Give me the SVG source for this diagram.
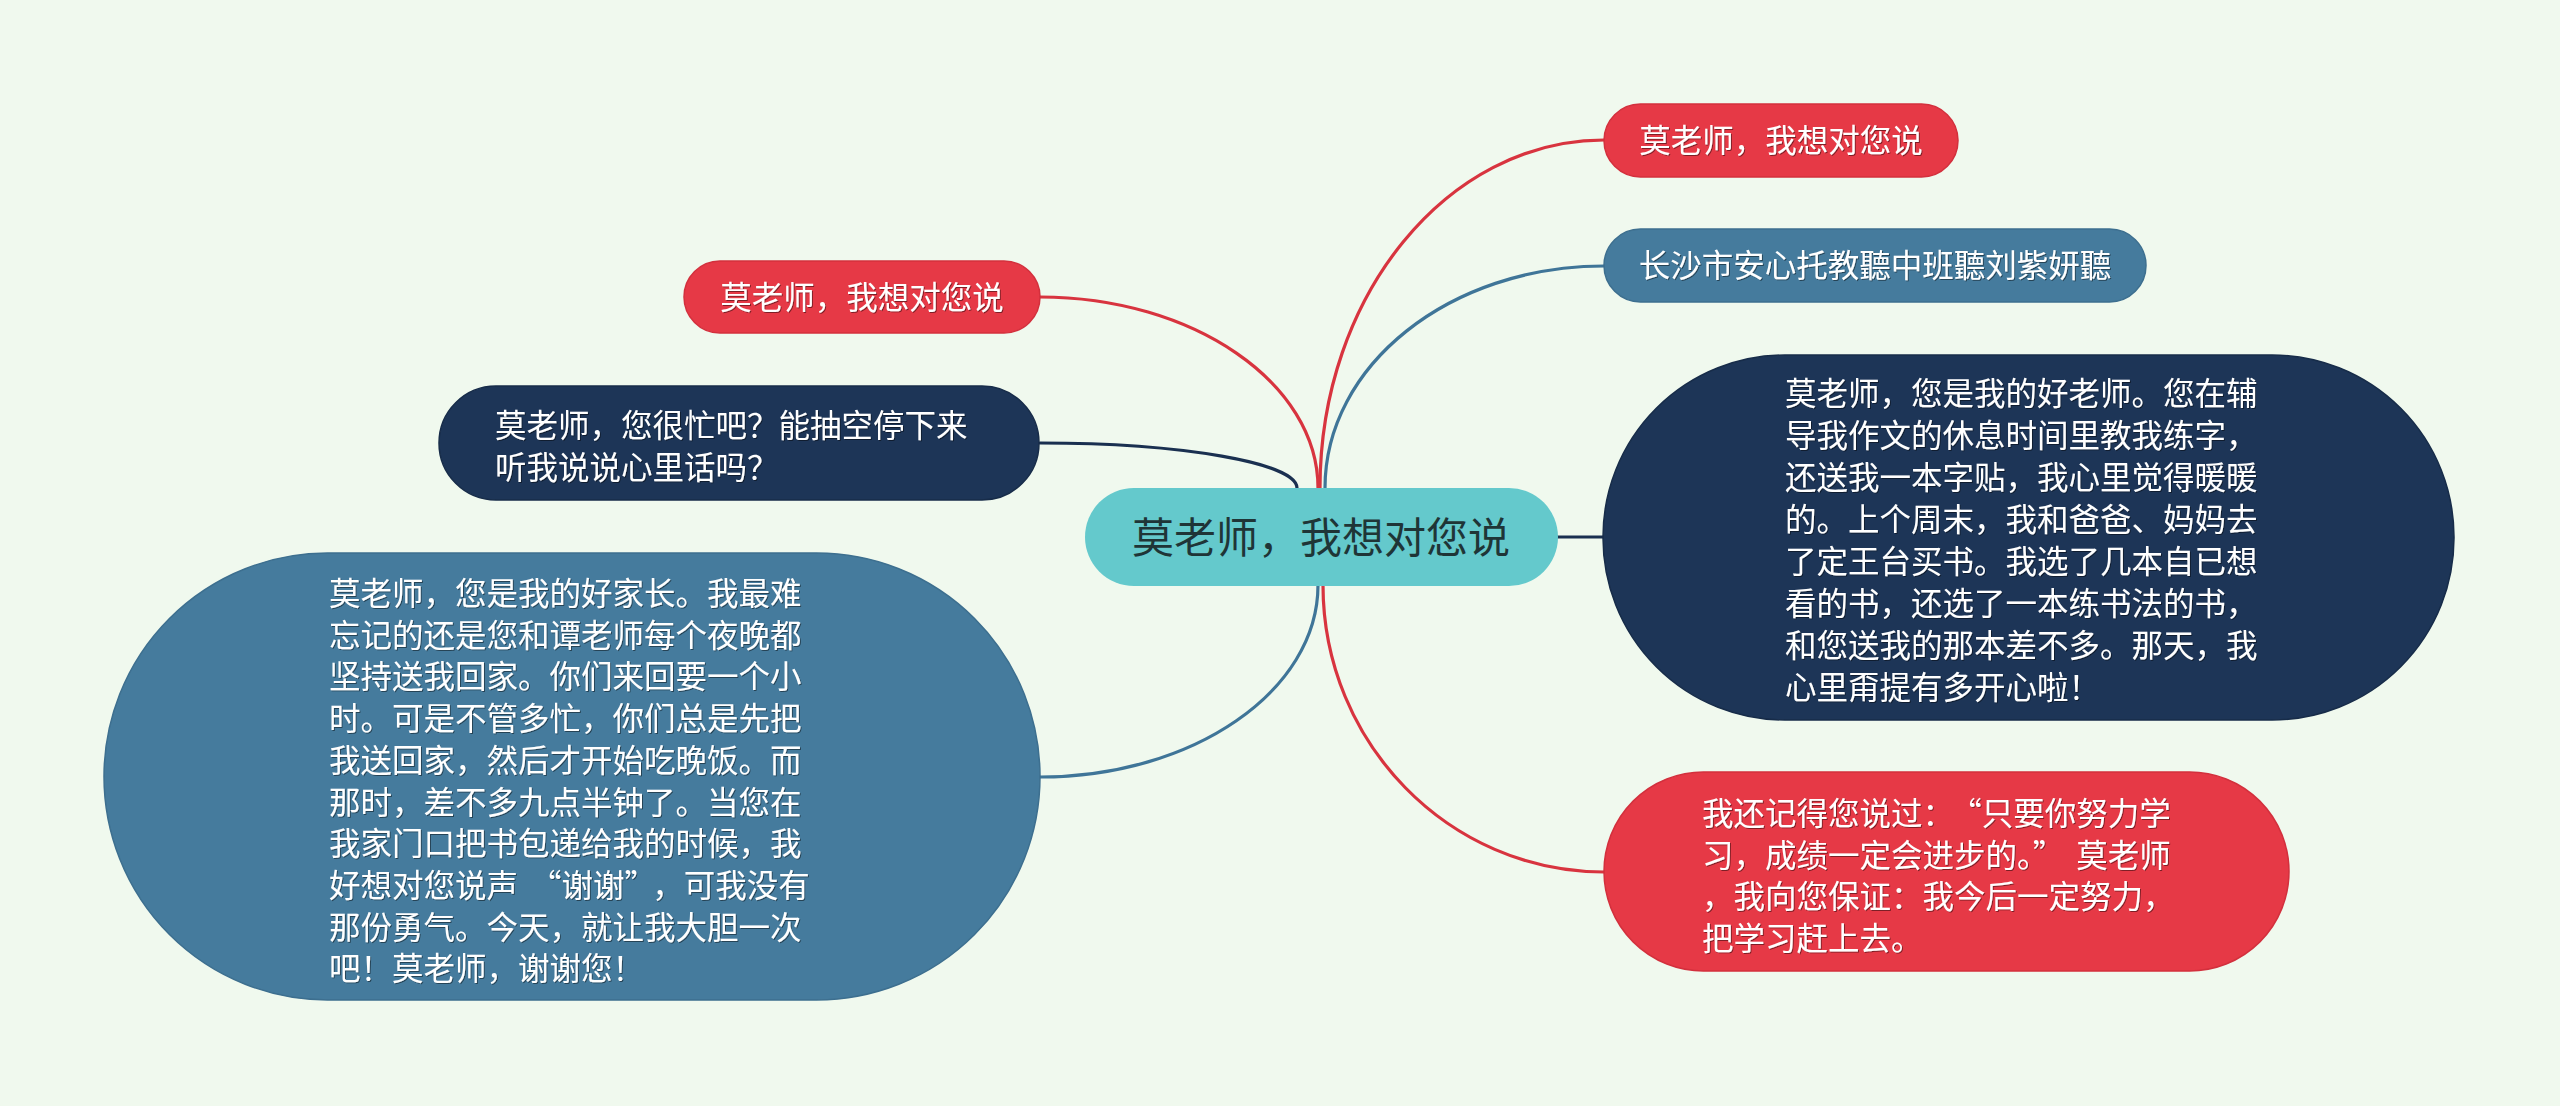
<svg xmlns="http://www.w3.org/2000/svg" width="2560" height="1106" viewBox="0 0 2560 1106">
<defs>
<filter id="ts" x="-5%" y="-20%" width="110%" height="140%"><feDropShadow dx="1" dy="1" stdDeviation="0.6" flood-color="#000" flood-opacity="0.45"/></filter>
<style>
.t{font-family:"Noto Sans CJK SC","Noto Sans",sans-serif;font-size:31.5px;fill:#ffffff;filter:url(#ts);}
.ctr{font-family:"Noto Sans CJK SC","Noto Sans",sans-serif;font-size:42px;fill:#1f3537;text-anchor:middle;}
.mid{text-anchor:middle;}
.red{fill:#e63946;stroke:#d3303d;stroke-width:1.5;}
.blue{fill:#457b9d;stroke:#3d6f8f;stroke-width:1.5;}
.navy{fill:#1d3557;stroke:#172c49;stroke-width:1.5;}
.teal{fill:#64c9cc;}
.ln{fill:none;stroke-width:3.2;stroke-linecap:round;}
.lr{stroke:#d8343f;}
.lb{stroke:#3f7598;}
.ln2{stroke:#1a3050;}
</style>
</defs>
<rect width="2560" height="1106" fill="#f0f9ee"/>
<g id="connectors">
<path class="ln lr" d="M1320,488 C1320,296 1447,140 1604,140"/>
<path class="ln lb" d="M1325,488 C1325,365 1450,266 1604,266"/>
<path class="ln ln2" d="M1556,537 L1604,537"/>
<path class="ln lr" d="M1323,585 C1323,743 1449,872 1604,872"/>
<path class="ln lr" d="M1040,297 C1193,297 1318,383 1318,488"/>
<path class="ln ln2" d="M1040,443 C1182,443 1297,463 1297,488"/>
<path class="ln lb" d="M1318,585 C1318,691 1193,777 1040,777"/>
</g>
<g id="center">
<rect class="teal" x="1085" y="488" width="473" height="98" rx="49" ry="49"/>
<text class="ctr" x="1321" y="553">莫老师，我想对您说</text>
</g>
<g id="n-tr-red">
<rect class="red" x="1604" y="104" width="354" height="73" rx="36.5" ry="36.5"/>
<text class="t mid" x="1781" y="152">莫老师，我想对您说</text>
</g>
<g id="n-tr-blue">
<rect class="blue" x="1604" y="229" width="542" height="73" rx="36.5" ry="36.5"/>
<text class="t mid" x="1875" y="277">长沙市安心托教聽中班聽刘紫妍聽</text>
</g>
<g id="n-r-navy">
<rect class="navy" x="1603" y="355" width="851" height="365" rx="182" ry="182"/>
<text class="t">
<tspan x="1785" y="405">莫老师，您是我的好老师。您在辅</tspan>
<tspan x="1785" y="447">导我作文的休息时间里教我练字，</tspan>
<tspan x="1785" y="489">还送我一本字贴，我心里觉得暖暖</tspan>
<tspan x="1785" y="531">的。上个周末，我和爸爸、妈妈去</tspan>
<tspan x="1785" y="573">了定王台买书。我选了几本自已想</tspan>
<tspan x="1785" y="615">看的书，还选了一本练书法的书，</tspan>
<tspan x="1785" y="657">和您送我的那本差不多。那天，我</tspan>
<tspan x="1785" y="699">心里甭提有多开心啦！</tspan>
</text>
</g>
<g id="n-br-red">
<rect class="red" x="1604" y="772" width="685" height="199" rx="99.5" ry="99.5"/>
<text class="t">
<tspan x="1702" y="825">我还记得您说过：<tspan dx="12">“</tspan>只要你努力学</tspan>
<tspan x="1702" y="866.5">习，成绩一定会进步的。”<tspan dx="12">莫</tspan>老师</tspan>
<tspan x="1702" y="908">，我向您保证：我今后一定努力，</tspan>
<tspan x="1702" y="949.5">把学习赶上去。</tspan>
</text>
</g>
<g id="n-tl-red">
<rect class="red" x="684" y="261" width="356" height="72" rx="36" ry="36"/>
<text class="t mid" x="862" y="309">莫老师，我想对您说</text>
</g>
<g id="n-l-navy">
<rect class="navy" x="439" y="386" width="600" height="114" rx="57" ry="57"/>
<text class="t">
<tspan x="495" y="437">莫老师，您很忙吧？能抽空停下来</tspan>
<tspan x="495" y="479">听我说说心里话吗？</tspan>
</text>
</g>
<g id="n-l-blue">
<rect class="blue" x="104" y="553" width="936" height="447" rx="223.5" ry="223.5"/>
<text class="t">
<tspan x="329" y="605">莫老师，您是我的好家长。我最难</tspan>
<tspan x="329" y="646.7">忘记的还是您和谭老师每个夜晚都</tspan>
<tspan x="329" y="688.4">坚持送我回家。你们来回要一个小</tspan>
<tspan x="329" y="730.1">时。可是不管多忙，你们总是先把</tspan>
<tspan x="329" y="771.8">我送回家，然后才开始吃晚饭。而</tspan>
<tspan x="329" y="813.5">那时，差不多九点半钟了。当您在</tspan>
<tspan x="329" y="855.2">我家门口把书包递给我的时候，我</tspan>
<tspan x="329" y="896.9">好想对您说声<tspan dx="12">“</tspan>谢谢”<tspan dx="12">，</tspan>可我没有</tspan>
<tspan x="329" y="938.6">那份勇气。今天，就让我大胆一次</tspan>
<tspan x="329" y="980.3">吧！莫老师，谢谢您！</tspan>
</text>
</g>
</svg>
